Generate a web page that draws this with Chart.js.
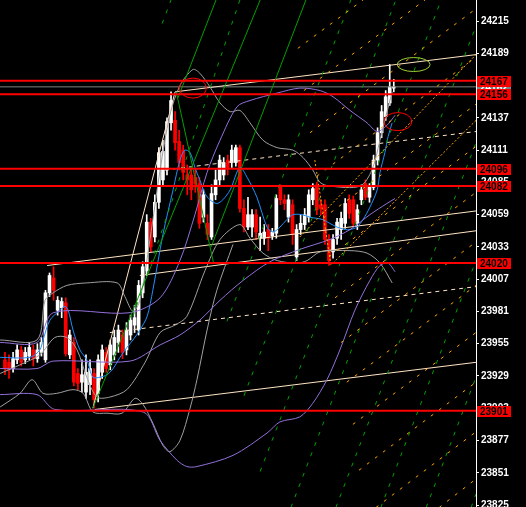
<!DOCTYPE html>
<html>
<head>
<meta charset="utf-8">
<script src="https://cdn.jsdelivr.net/npm/chart.js@4.4.1/dist/chart.umd.min.js"></script>
<style>
  html, body { margin: 0; padding: 0; background: #000; }
</style>
</head>
<body>
<canvas id="chart" width="526" height="507"></canvas>
<script>
// candles, one per bar index
const opens = [23942,23940,23935,23942,23950,23942,23945,23950,23943,23948,
  23942,23996,24008,23982,23984,23988,23946,23956,23931,23924,
  23916,23922,23931,23915,23932,23948,23938,23946,23956,23962,
  23950,23962,23970,23966,23996,24014,24053,24041,24069,24087,
  24095,24133,24135,24118,24111,24091,24091,24089,24084,24057,
  24052,24041,24075,24087,24091,24103,24101,24101,24113,24064,
  24049,24049,24059,24040,24040,24047,24042,24044,24081,24071,
  24057,24067,24025,24047,24051,24057,24071,24083,24067,24067,
  24039,24029,24040,24047,24052,24071,24071,24052,24071,24084,
  24073,24081,24103,24125,24138,24149,24161];
const highs = [23948,23946,23948,23954,23953,23952,23956,23954,23955,23960,
  23998,24012,24017,23993,23992,23992,23966,23960,23935,23942,
  23946,23942,23935,23946,23954,23952,23958,23966,23970,23966,
  23972,23978,23986,24006,24021,24059,24056,24075,24113,24119,
  24137,24158,24142,24127,24115,24099,24097,24095,24089,24079,
  24059,24083,24095,24107,24105,24107,24115,24115,24115,24071,
  24073,24063,24063,24057,24051,24051,24048,24075,24083,24075,
  24075,24071,24051,24059,24064,24079,24084,24085,24071,24071,
  24043,24043,24056,24061,24072,24075,24074,24067,24083,24087,
  24084,24107,24129,24147,24159,24180,24168];
const lows = [23930,23927,23932,23939,23937,23939,23942,23937,23940,23945,
  23940,23993,23990,23978,23976,23945,23943,23921,23918,23916,
  23911,23914,23903,23908,23927,23932,23934,23942,23948,23943,
  23946,23958,23964,23962,23992,24010,24029,24037,24064,24083,
  24091,24127,24111,24095,24087,24075,24071,24077,24048,24053,
  24039,24039,24071,24083,24087,24091,24097,24098,24061,24045,
  24047,24041,24039,24030,24035,24030,24039,24040,24067,24063,
  24053,24035,24022,24043,24047,24053,24067,24059,24059,24035,
  24018,24024,24035,24039,24048,24056,24050,24047,24067,24071,
  24069,24079,24099,24121,24135,24147,24158];
const closes = [23935,23934,23943,23950,23940,23948,23952,23943,23950,23956,
  23996,24010,23998,23990,23989,23947,23962,23924,23923,23930,
  23932,23935,23910,23942,23950,23935,23954,23960,23966,23948,
  23966,23974,23976,24002,24017,24053,24033,24069,24109,24110,
  24134,24151,24117,24101,24093,24087,24079,24084,24052,24075,
  24043,24076,24087,24103,24101,24097,24111,24113,24064,24049,
  24059,24059,24045,24044,24045,24040,24045,24072,24071,24068,
  24071,24043,24047,24052,24059,24075,24080,24063,24064,24039,
  24022,24039,24053,24056,24068,24060,24052,24063,24079,24073,
  24081,24103,24125,24142,24154,24162,24162];

// indicator lines as [barIndex, price]
const fastMA = [[-1.2,23944],[6.2,23944],[8.6,23950],[9.4,23958],[11.1,23974],[13.6,23982],[14.8,23985],[15.6,23982],
  [16.8,23966],[18.5,23950],[20.2,23942],[21.7,23928],[23.5,23928],[25.2,23930],[26.7,23935],[28.4,23944],[30.1,23952],
  [31.6,23958],[33.3,23966],[35.1,23977],[36.5,23998],[39.0,24043],[41.5,24079],[43.2,24103],[44.4,24111],[45.7,24109],
  [46.9,24097],[48.1,24087],[49.4,24076],[50.6,24071],[52.3,24068],[53.8,24071],[55.6,24079],[58.0,24097],[59.8,24089],
  [62.2,24073],[64.7,24049],[66.2,24045],[67.9,24049],[69.6,24055],[71.1,24059],[73.3,24059],[75.3,24057],[77.0,24056],
  [78.5,24055],[80.2,24052],[82.0,24049],[84.0,24047],[85.2,24047],[86.9,24049],[88.4,24055],[90.1,24065],[91.9,24079],
  [92.6,24093],[93.8,24109],[94.6,24122],[95.6,24133]];
const grayUpper = [[-1.2,23958],[7.9,23958],[9.9,23990],[11.9,23996],[15.3,24002],[20.2,24004],[27.7,24004],[29.6,23993],
  [31.6,23981],[33.3,23990],[35.8,24039],[38.3,24095],[40.7,24139],[43.2,24163],[46.4,24176],[48.1,24173],[50.6,24162],
  [53.1,24149],[55.6,24142],[58.0,24143],[60.5,24133],[63.7,24119],[67.2,24113],[71.1,24111],[73.6,24105],[76.0,24095],
  [77.8,24085],[80.2,24082],[87.7,24082],[90.6,24095],[92.6,24119],[94.1,24139],[95.6,24158]];
const grayMid = [[-1.2,23931],[3.7,23938],[8.6,23946],[12.3,23960],[15.3,23960],[17.8,23950],[20.2,23928],[22.7,23912],
  [25.9,23912],[30.1,23918],[34.6,23940],[38.3,23964],[42.0,23970],[44.9,23977],[49.4,24014],[53.1,24039],[58.0,24051],
  [60.5,24040],[63.7,24028],[67.2,24022],[72.1,24020],[74.6,24022],[77.8,24029],[85.2,24030],[89.4,24028],[92.6,24020],
  [95.6,24004]];
const grayLower = [[-1.2,23904],[3.7,23915],[6.7,23926],[9.4,23915],[12.8,23915],[16.8,23918],[19.3,23915],[21.7,23900],
  [25.2,23899],[28.9,23899],[32.1,23911],[34.1,23906],[36.5,23891],[39.0,23873],[40.7,23868],[43.2,23877],[45.7,23903],
  [47.4,23926],[49.9,23966],[52.3,23998],[56.3,24035]];
const purpleUpper = [[-1.2,23956],[7.9,23956],[11.9,23980],[30.9,23980],[38.3,23992],[43.2,24022],[46.9,24059],
  [49.9,24093],[53.1,24119],[57.3,24146],[60.5,24151],[67.2,24157],[72.8,24161],[77.8,24159],[81.0,24154],[85.2,24143],
  [89.4,24133],[91.9,24126],[94.3,24131],[96.3,24139]];
const purpleMid = [[-1.2,23935],[7.9,23935],[11.9,23941],[30.9,23941],[38.3,23954],[43.2,23962],[48.1,23974],
  [53.1,23990],[58.8,24006],[65.4,24021],[72.8,24031],[80.2,24039],[85.2,24047],[90.1,24059],[94.3,24068],[96.3,24072]];
const purpleLower = [[-1.2,23914],[7.9,23914],[12.3,23902],[34.1,23900],[38.3,23877],[42.5,23861],[44.9,23856],
  [47.4,23856],[56.3,23865],[64.7,23883],[67.9,23892],[72.8,23896],[76.0,23907],[79.5,23926],[82.7,23950],[86.4,23982],
  [90.1,24006],[92.6,24018],[94.6,24020],[96.3,24013]];

// drawn objects: [x1, price1, x2, price2]
const creamLines = [[42.0,24158,116.3,24188],[10.4,24018,116.3,24062],[33.3,24010,116.3,24046],
  [22.2,23902,116.3,23940],[21.7,23903,42.0,24158]];
const creamDashed = [[39.5,24095,116.3,24126],[25.9,23964,116.3,24001]];
const greenSolid = [[21.7,23903,63.0,24232],[42.7,24153,52.1,24232],[42.3,24158,51.5,24020],[50.9,24033,74.3,24232]];
const greenDashed = [[38.8,24213,41.0,24232],[31.6,23977,58.0,24232],[54.8,23973,85.4,24232],[59.0,23913,96.5,24232],
  [63.0,23852,107.7,24232],[70.6,23823,116.3,24211],[81.7,23823,116.3,24117],[92.8,23823,116.3,24022],
  [104.0,23823,116.3,23928],[115.1,23823,116.3,23834]];
const orangeDashed = [[72.3,24193,88.4,24232],[73.8,24159,103.7,24232],[75.3,24125,116.3,24225],[77.0,24090,116.3,24186],
  [78.5,24056,116.3,24148],[80.0,24025,116.3,24114],[81.5,23992,116.3,24077],[83.0,23956,116.3,24037],
  [84.4,23924,116.3,24002],[85.9,23890,116.3,23964],[87.4,23853,116.3,23924],[91.6,23823,116.3,23884],
  [107.2,23823,116.3,23846]];
const orangeDotted = [[72.8,24041,116.3,24188],[81.0,24020,116.3,24135],[76.5,24103,80.5,24018]];

const redLevels = [24167, 24156, 24096, 24082, 24020, 23901];
const currentPrice = 24162;
const yTicks = [24215, 24189, 24163, 24137, 24111, 24085, 24059, 24033, 24007, 23981, 23955, 23929, 23903, 23877, 23851, 23825];

const ellipseX = [46.4, 97.0, 100.9];
const ellipseY = [24161, 24134, 24180];

const X_MIN = -1.23, X_MAX = 116.3;
const Y_MIN = 23823.4, Y_MAX = 24232;
const LABEL_FONT = "bold 10px 'Liberation Sans', Arial, sans-serif";

const candleColors = closes.map((c, i) => (c >= opens[i] ? "#ffffff" : "#ff0000"));

const pts = (arr) => arr.map(([x, y]) => ({ x, y }));
const line = (data, color, extra) => ({
  type: "line",
  data,
  borderColor: color,
  borderWidth: 1,
  pointRadius: 0,
  fill: false,
  tension: 0,
  order: 1,
  ...extra,
});
const segs = (list, color, extra) =>
  list.map((s) => line([{ x: s[0], y: s[1] }, { x: s[2], y: s[3] }], color, extra));

const datasets = [
  {
    type: "bar",
    data: highs.map((h, i) => ({ x: i, y: [lows[i], h] })),
    backgroundColor: candleColors,
    barThickness: 1,
    grouped: false,
    order: 10,
  },
  {
    type: "bar",
    data: opens.map((o, i) => ({ x: i, y: [o, closes[i]] })),
    backgroundColor: candleColors,
    barThickness: 3,
    minBarLength: 1,
    grouped: false,
    order: 9,
  },
  ...segs(orangeDashed, "#ffa500", { borderDash: [3, 7] }),
  ...segs(orangeDotted, "#ffa500", { borderDash: [2, 2] }),
  ...segs(greenDashed, "#00a000", { borderDash: [4, 7] }),
  ...segs(greenSolid, "#00a000"),
  line(pts(purpleUpper), "#9370db", { tension: 0.3 }),
  line(pts(purpleMid), "#9370db", { tension: 0.3 }),
  line(pts(purpleLower), "#9370db", { tension: 0.3 }),
  line(pts(grayUpper), "#a0a0a0", { tension: 0.3 }),
  line(pts(grayMid), "#a0a0a0", { tension: 0.3 }),
  line(pts(grayLower), "#a0a0a0", { tension: 0.3 }),
  line(pts(fastMA), "#1e90ff", { tension: 0.3 }),
  ...segs(creamDashed, "#ffe4c4", { borderDash: [4, 4] }),
  ...segs(creamLines, "#ffe4c4"),
  line([{ x: X_MIN, y: currentPrice }, { x: X_MAX, y: currentPrice }], "#808080"),
  ...redLevels.map((v) => line([{ x: X_MIN, y: v }, { x: X_MAX, y: v }], "#ff0000", { borderWidth: 2, order: 0 })),
];

const ellipses = {
  id: "ellipses",
  afterDatasetsDraw(chart) {
    const { ctx, scales } = chart;
    const radii = [[13.5, 10], [14, 9], [16.5, 7]];
    const colors = ["#ff0000", "#ff0000", "#9acd32"];
    ctx.save();
    ellipseX.forEach((x, i) => {
      ctx.beginPath();
      ctx.ellipse(scales.x.getPixelForValue(x), scales.y.getPixelForValue(ellipseY[i]), radii[i][0], radii[i][1], 0, 0, Math.PI * 2);
      ctx.strokeStyle = colors[i];
      ctx.lineWidth = 1;
      ctx.stroke();
    });
    ctx.restore();
  },
};

const priceTags = {
  id: "priceTags",
  afterDraw(chart) {
    const { ctx } = chart;
    const y = chart.scales.y;
    ctx.save();
    ctx.font = LABEL_FONT;
    ctx.textBaseline = "middle";
    const tag = (v, bg, fg) => {
      const py = Math.round(y.getPixelForValue(v));
      ctx.fillStyle = bg;
      ctx.fillRect(y.left + 1, py - 5, 34, 11);
      ctx.fillStyle = fg;
      ctx.fillText(String(v), y.left + 4, py + 1);
    };
    tag(currentPrice, "#808080", "#ffffff");
    redLevels.forEach((v) => tag(v, "#ff0000", "#000000"));
    ctx.restore();
  },
};

new Chart(document.getElementById("chart").getContext("2d"), {
  type: "bar",
  data: { datasets },
  plugins: [ellipses, priceTags],
  options: {
    responsive: false,
    animation: false,
    layout: { padding: 0 },
    plugins: { legend: { display: false }, tooltip: { enabled: false }, title: { display: false } },
    scales: {
      x: { type: "linear", min: X_MIN, max: X_MAX, display: false, offset: false },
      y: {
        position: "right",
        min: Y_MIN,
        max: Y_MAX,
        afterBuildTicks: (scale) => {
          scale.ticks = yTicks.map((v) => ({ value: v }));
        },
        afterFit: (scale) => {
          scale.width = 50;
          scale.paddingTop = 0;
          scale.paddingBottom = 0;
        },
        border: { color: "#ffffff", width: 1 },
        grid: { drawOnChartArea: false, color: "#ffffff", tickLength: 3 },
        ticks: {
          autoSkip: false,
          padding: 2,
          color: "#ffffff",
          font: { family: "'Liberation Sans', Arial, sans-serif", size: 10, weight: "bold" },
          callback: (v) => String(v),
        },
      },
    },
  },
});
</script>
</body>
</html>
